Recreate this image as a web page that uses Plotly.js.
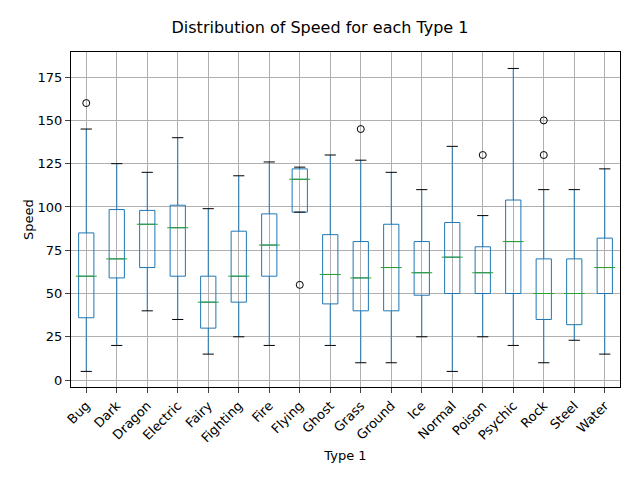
<!DOCTYPE html>
<html><head><script src="https://cdn.plot.ly/plotly-3.0.1.min.js"></script></head>
<body style="margin:0"><div id="c" style="width:640px;height:480px"></div>
<script>
const types=["Bug","Dark","Dragon","Electric","Fairy","Fighting","Fire","Flying","Ghost","Grass","Ground","Ice","Normal","Poison","Psychic","Rock","Steel","Water"];
const lowW=[5,20,40,35,15,25,20,97,20,10,10,25,5,25,20,10,23,15];
const q1=[36,59,65,60,30,45,60,97,44,40,40,49,50,50,50,35,32,50];
const med=[60,70,90,88,45,60,78,116,61,59,65,62,71,62,80,50,50,65];
const q3=[85,98.5,98,101,60,86,96,122,84,80,90,80,91,77,104,70,70,82];
const highW=[145,125,120,140,99,118,126,123,130,127,120,110,135,95,180,110,110,122];
const outX=["Bug","Flying","Grass","Poison","Rock","Rock"];
const outY=[160,55,145,130,130,150];
const traces=[{type:'box',x:types,q1:q1,median:med,q3:q3,lowerfence:lowW,upperfence:highW,
 fillcolor:'rgba(0,0,0,0)',line:{color:'#1f77b4',width:1},whiskerwidth:0,boxpoints:false,width:0.5,hoverinfo:'skip'},
 {type:'scatter',mode:'markers',x:types,y:med,marker:{symbol:'line-ew',size:15,line:{color:'#2ca02c',width:1}}},
 {type:'scatter',mode:'markers',x:types.concat(types),y:lowW.concat(highW),marker:{symbol:'line-ew',size:8,line:{color:'black',width:1}}},
 {type:'scatter',mode:'markers',x:outX,y:outY,marker:{symbol:'circle-open',size:7,color:'black',line:{width:1}}}];
Plotly.newPlot('c',traces,{width:640,height:480,showlegend:false,
 margin:{l:71,r:20,t:52,b:93},plot_bgcolor:'white',
 font:{family:'DejaVu Sans',size:13,color:'black'},
 title:{text:'Distribution of Speed for each Type 1',font:{size:16},x:0.5,y:0.955,xanchor:'center'},
 xaxis:{title:{text:'Type 1',standoff:6,font:{size:13}},tickfont:{size:13},tickangle:-45,showgrid:true,gridcolor:'#b0b0b0',showline:true,mirror:true,linecolor:'black',ticks:'outside',range:[-0.5,17.5]},
 yaxis:{title:{text:'Speed',font:{size:13}},tickfont:{size:13},range:[-4,189.5],tickvals:[0,25,50,75,100,125,150,175],showgrid:true,gridcolor:'#b0b0b0',showline:true,mirror:true,linecolor:'black',ticks:'outside',zeroline:false}
},{staticPlot:true});
</script></body></html>
